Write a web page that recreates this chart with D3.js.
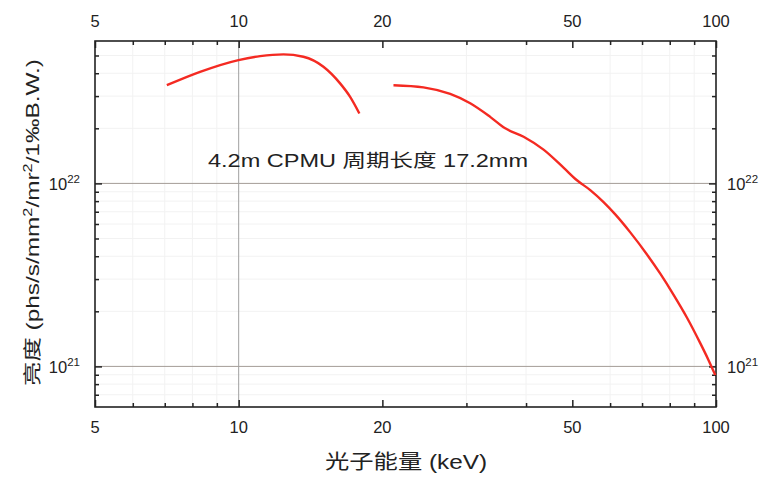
<!DOCTYPE html>
<html>
<head>
<meta charset="utf-8">
<script src="https://cdn.jsdelivr.net/npm/d3@7"></script>
<style>
  body { margin: 0; background: #fff; }
  svg { display: block; }
  text { font-family: "Liberation Sans", Arial, "Noto Sans CJK SC", sans-serif; fill: #222; }
</style>
</head>
<body>
<div id="chart"></div>
<script>
// brightness curve, lower energy branch (keV, phs/s/mm2/mr2/0.1%BW)
var energy1 = [7.07, 8.3, 9.99, 11.09, 12.41, 13.66, 15.05, 16.31, 17.12, 17.9];
var flux1 = [3.44e22, 4.07e22, 4.72e22, 4.96e22, 5.07e22, 4.92e22, 4.34e22, 3.52e22, 2.97e22, 2.41e22];

// higher energy branch
var energy2 = [21.1, 24.38, 27.74, 30.55, 33.64, 36.17, 39.53, 43.52, 47.92, 51.13, 54.52, 58.13,
               61.51, 66.13, 71.68, 76.43, 81.5, 86.95, 92.68, 96.47, 99.67];
var flux2 = [3.44e22, 3.35e22, 3.08e22, 2.74e22, 2.31e22, 2.0e22, 1.8e22, 1.53e22, 1.22e22, 1.04e22,
             9.19e21, 7.9e21, 6.77e21, 5.4e21, 4.09e21, 3.21e21, 2.46e21, 1.845e21, 1.34e21, 1.082e21, 8.96e20];

var xMajor = [5, 10, 20, 50, 100];
var xMinor = [6, 7, 8, 9, 30, 40, 60, 70, 80, 90];
var yMajor = [1e21, 1e22];
var yMinor = [7e20, 8e20, 9e20, 2e21, 3e21, 4e21, 5e21, 6e21, 7e21, 8e21, 9e21, 2e22, 3e22, 4e22, 5e22];
var yExp = [21, 22];

var annotation = "4.2m CPMU 周期长度 17.2mm";
var xTitle = "光子能量  (keV)";

var margin = {top: 41, right: 49, bottom: 71, left: 95},
    width = 765 - margin.left - margin.right,
    height = 478 - margin.top - margin.bottom;

var svg = d3.select("#chart")
  .append("svg")
    .attr("width", 765)
    .attr("height", 478);

var g = svg.append("g")
  .attr("transform", "translate(" + margin.left + "," + margin.top + ")");

var x = d3.scaleLog().domain([5, 100]).range([0, width]);
var y = d3.scaleLog().domain([6e20, 6e22]).range([height, 0]);

// faint minor grid
g.selectAll(".vminor")
  .data(xMinor)
  .enter().append("line")
    .attr("x1", d => x(d)).attr("x2", d => x(d))
    .attr("y1", 0).attr("y2", height)
    .attr("stroke", "#f2f2f2");
g.selectAll(".hminor")
  .data(yMinor)
  .enter().append("line")
    .attr("y1", d => y(d)).attr("y2", d => y(d))
    .attr("x1", 0).attr("x2", width)
    .attr("stroke", "#f2f2f2");

// major grid lines
g.selectAll(".hmajor")
  .data(yMajor)
  .enter().append("line")
    .attr("y1", d => y(d)).attr("y2", d => y(d))
    .attr("x1", 0).attr("x2", width)
    .attr("stroke", "#a49c96");
g.append("line")
  .attr("x1", x(10)).attr("x2", x(10))
  .attr("y1", 0).attr("y2", height)
  .attr("stroke", "#a0a0a0");

// tick marks, pointing inward on all sides
function ticks(axis, vals, len, tr) {
  var a = g.append("g")
    .attr("transform", tr)
    .call(axis.tickValues(vals).tickSize(-len).tickFormat(""));
  a.select(".domain").remove();
  a.selectAll("line").attr("stroke", "#222").attr("stroke-width", 1.5);
}
ticks(d3.axisBottom(x), xMinor, 4, "translate(0," + height + ")");
ticks(d3.axisBottom(x), xMajor, 7, "translate(0," + height + ")");
ticks(d3.axisTop(x), xMinor, 4, "translate(0,0)");
ticks(d3.axisTop(x), xMajor, 7, "translate(0,0)");
ticks(d3.axisLeft(y), yMinor, 4, "translate(0,0)");
ticks(d3.axisLeft(y), yMajor, 7, "translate(0,0)");
ticks(d3.axisRight(y), yMinor, 4, "translate(" + width + ",0)");
ticks(d3.axisRight(y), yMajor, 7, "translate(" + width + ",0)");

// x tick labels, top and bottom
[{yy: height + 25.5}, {yy: -14}].forEach(function(p) {
  g.selectAll(null)
    .data(xMajor)
    .enter().append("text")
      .attr("x", d => x(d))
      .attr("y", p.yy)
      .attr("text-anchor", "middle")
      .style("font-size", "16.5px")
      .text(d => d);
});

// y tick labels with superscript exponents
function yLabels(xx, anchor) {
  var t = g.selectAll(null)
    .data(yMajor)
    .enter().append("text")
      .attr("x", xx)
      .attr("y", d => y(d) + 6.5)
      .attr("text-anchor", anchor)
      .style("font-size", "16.5px");
  t.append("tspan").text("10");
  t.append("tspan")
    .attr("dy", -7)
    .style("font-size", "11.5px")
    .text((d, i) => yExp[i]);
}
yLabels(-15, "end");
yLabels(width + 11, "start");

// frame
g.append("rect")
  .attr("width", width).attr("height", height)
  .attr("fill", "none")
  .attr("stroke", "#222")
  .attr("stroke-width", 1.6);

// curves
var line = d3.line()
  .x(d => x(d[0]))
  .y(d => y(d[1]))
  .curve(d3.curveMonotoneX);

[[energy1, flux1], [energy2, flux2]].forEach(function(s) {
  g.append("path")
    .datum(d3.zip(s[0], s[1]))
    .attr("fill", "none")
    .attr("stroke", "#f42a22")
    .attr("stroke-width", 2.4)
    .attr("d", line);
});

// annotation
svg.append("text")
  .attr("x", 208)
  .attr("y", 167)
  .attr("textLength", 320)
  .attr("lengthAdjust", "spacingAndGlyphs")
  .style("font-size", "18px")
  .text(annotation);

// axis titles
svg.append("text")
  .attr("x", 325)
  .attr("y", 469)
  .attr("textLength", 162)
  .attr("lengthAdjust", "spacingAndGlyphs")
  .style("font-size", "20px")
  .text(xTitle);

var yt = svg.append("text")
  .attr("transform", "translate(39,386) rotate(-90)")
  .attr("textLength", 327)
  .attr("lengthAdjust", "spacingAndGlyphs")
  .style("font-size", "18px");
yt.append("tspan").text("亮度 (phs/s/mm");
yt.append("tspan").attr("dy", -7).style("font-size", "12px").text("2");
yt.append("tspan").attr("dy", 7).text("/mr");
yt.append("tspan").attr("dy", -7).style("font-size", "12px").text("2");
yt.append("tspan").attr("dy", 7).text("/1‰B.W.)");
</script>
</body>
</html>
